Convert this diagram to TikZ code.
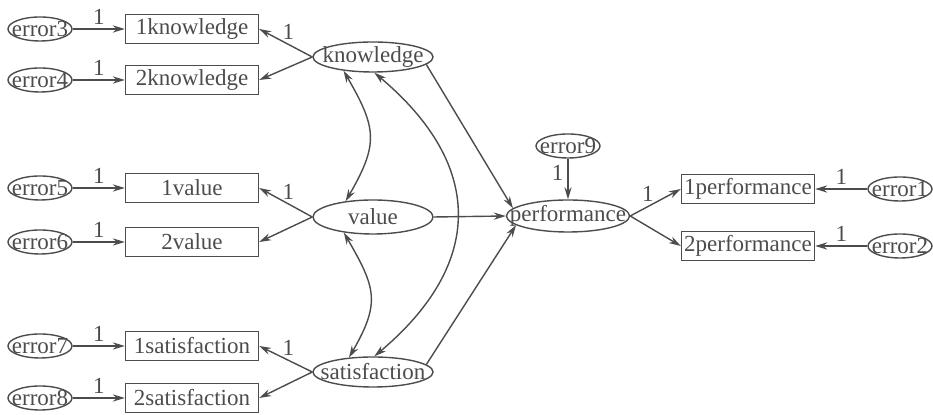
\documentclass[tikz,border=0pt]{standalone}
\usepackage{fontspec}
\setmainfont{Liberation Serif}
\usetikzlibrary{positioning,arrows.meta,shapes.geometric}
\definecolor{ink}{gray}{0.3}
\tikzset{
  conn/.style={-{Stealth[length=6pt,width=3.6pt]},line width=0.7pt,draw=ink},
  cov/.style={{Stealth[length=6pt,width=3.6pt]}-{Stealth[length=6pt,width=3.6pt]},line width=0.7pt,draw=ink},
  obsv/.style={draw=ink,line width=0.7pt,rectangle,minimum width=66.5pt,minimum height=14.5pt,inner sep=0pt,text=ink},
  latv/.style={draw=ink,line width=0.7pt,ellipse,minimum width=60pt,minimum height=15pt,inner sep=-10pt,text=ink}, % latent
  errv/.style={draw=ink,line width=0.7pt,ellipse,minimum width=32pt,minimum height=12pt,inner sep=-10pt,text=ink},  % error term
  wlbl/.style={text=ink,inner sep=1pt},
}
\begin{document}
\begin{tikzpicture}[x=0.5pt,y=-0.5pt,font=\fontsize{11.5}{13}\selectfont]
  \useasboundingbox (0,0) rectangle (933,415);
  % latent variables
  \node[latv] (know) at (373,57) {knowledge};
  \node[latv,minimum height=17pt] (val) at (373,217) {value};
  \node[latv] (sat) at (373,372) {satisfaction};
  \node[latv,minimum width=61.5pt,minimum height=16pt] (perf) at (568,216) {performance};
  % indicators with their error terms
  \foreach \nm/\yy/\ee/\lab in {k1/29/3/1knowledge, k2/80/4/2knowledge, v1/188/5/1value,
      v2/242/6/2value, s1/346/7/1satisfaction, s2/398/8/2satisfaction}{
    \node[obsv] (\nm) at (192,\yy) {\lab};
    \node[errv] (e\ee) at (40,\yy) {error\ee};
    \draw[conn] (e\ee) -- node[wlbl,above=1pt] (w\ee) {1} (\nm);
  }
  \node[obsv] (p1) at (748,189) {1performance};
  \node[obsv] (p2) at (748,246) {2performance};
  \node[errv] (e1) at (900,189) {error1};
  \node[errv] (e2) at (900,246) {error2};
  \node[errv] (e9) at (568,146) {error9};
  \draw[conn] (e1) -- node[wlbl,above=1pt] (w1) {1} (p1);
  \draw[conn] (e2) -- node[wlbl,above=1pt] (w2) {1} (p2);
  \draw[conn] (e9) -- node[wlbl,pos=0.35,left=1pt] (w9) {1} (perf);
  % loadings
  \draw[conn] (know.west) -- node[wlbl,pos=0.45,above=1pt] (lk) {1} (k1.east);
  \draw[conn] (know.west) -- (k2.east);
  \draw[conn] (val.west) -- node[wlbl,pos=0.45,above=1pt] (lv) {1} (v1.east);
  \draw[conn] (val.west) -- (v2.east);
  \draw[conn] (sat.west) -- node[wlbl,pos=0.45,above=1pt] (ls) {1} (s1.east);
  \draw[conn] (sat.west) -- (s2.east);
  \draw[conn] (perf.east) -- node[wlbl,pos=0.35,above=1pt] (lp) {1} (p1.west);
  \draw[conn] (perf.east) -- (p2.west);
  % structural paths
  \draw[conn] (know.-8) -- (perf.172);
  \draw[conn] (val.east) -- (perf.west);
  \draw[conn] (sat.8) -- (perf.190);
  % covariances
  \draw[cov] (know.205) to[out=-60,in=60,looseness=1.3] (val.150);
  \draw[cov] (val.208) to[out=-60,in=60,looseness=1.3] (sat.149);
  \draw[cov] (know.275) to[out=-40,in=40,looseness=1.3] (sat.85);
\end{tikzpicture}
\end{document}
